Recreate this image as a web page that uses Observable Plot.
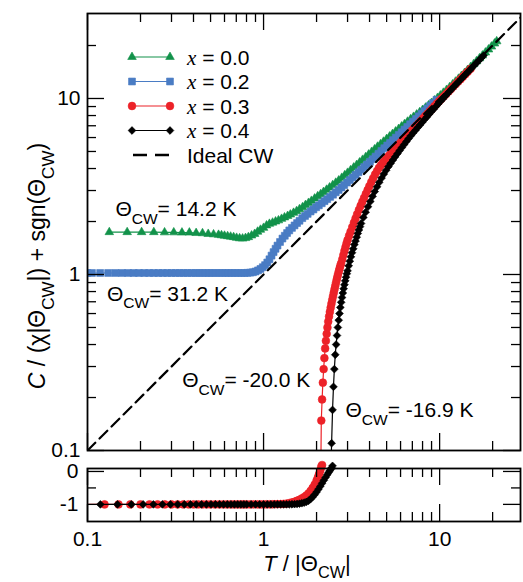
<!DOCTYPE html>
<html>
<head>
<meta charset="utf-8">
<script src="https://cdn.jsdelivr.net/npm/d3@7"></script>
<script src="https://cdn.jsdelivr.net/npm/@observablehq/plot@0.6"></script>
<style>
  body { margin: 0; background: #fff; }
  #chart { position: relative; width: 523px; height: 582px; background: #fff; }
  #chart svg { position: absolute; left: 0; overflow: visible; }
</style>
</head>
<body>
<div id="chart"></div>
<script>
// Reduced susceptibility C/(χ|Θ_CW|) + sgn(Θ_CW) against reduced temperature T/|Θ_CW|.
// Each series is a list of [T/|Θ_CW|, value] pairs.

const seriesLabels = ["~x~ = 0.0", "~x~ = 0.2", "~x~ = 0.3", "~x~ = 0.4"];
const thetaCW = [14.2, 31.2, -20.0, -16.9];

// x = 0.0
const x00 = [[0.133,1.74],[0.168,1.74],[0.203,1.74],[0.238,1.74],[0.274,1.735],[0.309,1.735],[0.344,1.73],[0.379,1.73],[0.414,1.72],[0.45,1.715],[0.485,1.70],[0.52,1.69],[0.555,1.68],[0.577,1.67],[0.6,1.66],[0.625,1.65],[0.65,1.64],[0.676,1.63],[0.703,1.615],[0.731,1.605],[0.76,1.6],[0.79,1.61],[0.82,1.63],[0.855,1.665],[0.89,1.7],[0.925,1.75],[0.96,1.795],[1.0,1.84],[1.04,1.9],[1.08,1.94],[1.125,1.97],[1.17,2.0],[1.215,2.03],[1.265,2.07],[1.315,2.11],[1.37,2.15],[1.42,2.19],[1.48,2.24],[1.54,2.29],[1.6,2.35],[1.665,2.41],[1.73,2.48],[1.8,2.55],[1.87,2.62],[1.95,2.7],[2.03,2.78],[2.11,2.86],[2.19,2.94],[2.28,3.03],[2.37,3.12],[2.47,3.22],[2.57,3.32],[2.67,3.42],[2.78,3.54],[2.89,3.66],[3.0,3.78],[3.12,3.91],[3.25,4.05],[3.38,4.19],[3.51,4.33],[3.65,4.48],[3.8,4.64],[3.95,4.8],[4.11,4.97],[4.27,5.14],[4.44,5.32],[4.62,5.5],[4.8,5.68],[5.0,5.88],[5.2,6.08],[5.4,6.28],[5.62,6.49],[5.85,6.71],[6.08,6.93],[6.32,7.15],[6.57,7.38],[6.84,7.62],[7.11,7.86],[7.4,8.1],[7.7,8.35],[8.0,8.6],[8.32,8.87],[8.65,9.14],[9.0,9.43],[9.36,9.74],[9.73,10.07],[10.1,10.4],[10.5,10.77],[10.95,11.18],[11.4,11.6],[11.85,12.03],[12.3,12.46],[12.8,12.94],[13.3,13.43],[13.85,13.96],[14.4,14.5],[15.0,15.09],[15.6,15.68],[16.2,16.27],[16.85,16.91],[17.5,17.55],[18.2,18.24],[18.95,18.98],[19.7,19.72],[20.5,20.52],[21.1,21.12]];

// x = 0.2
const x02 = [[0.0997,1.02],[0.106,1.02],[0.118,1.02],[0.131,1.02],[0.144,1.02],[0.157,1.02],[0.17,1.02],[0.183,1.02],[0.196,1.02],[0.21,1.02],[0.224,1.02],[0.238,1.02],[0.253,1.02],[0.268,1.02],[0.284,1.02],[0.3,1.02],[0.317,1.02],[0.334,1.02],[0.352,1.02],[0.37,1.02],[0.39,1.02],[0.41,1.02],[0.43,1.02],[0.45,1.02],[0.47,1.02],[0.49,1.02],[0.51,1.02],[0.535,1.02],[0.56,1.02],[0.585,1.02],[0.61,1.02],[0.635,1.02],[0.66,1.02],[0.69,1.02],[0.72,1.02],[0.75,1.02],[0.78,1.02],[0.81,1.022],[0.84,1.025],[0.87,1.03],[0.9,1.04],[0.93,1.055],[0.96,1.075],[0.99,1.1],[1.02,1.13],[1.05,1.17],[1.08,1.22],[1.11,1.28],[1.14,1.34],[1.17,1.4],[1.2,1.46],[1.24,1.53],[1.28,1.6],[1.32,1.66],[1.36,1.72],[1.4,1.78],[1.45,1.84],[1.5,1.9],[1.55,1.96],[1.6,2.02],[1.66,2.09],[1.72,2.15],[1.78,2.21],[1.85,2.28],[1.92,2.34],[1.99,2.41],[2.06,2.47],[2.14,2.54],[2.22,2.61],[2.3,2.68],[2.39,2.76],[2.48,2.84],[2.57,2.93],[2.67,3.02],[2.77,3.12],[2.87,3.22],[2.98,3.33],[3.09,3.44],[3.21,3.56],[3.33,3.68],[3.46,3.81],[3.59,3.94],[3.73,4.08],[3.87,4.22],[4.02,4.37],[4.17,4.52],[4.33,4.68],[4.5,4.86],[4.67,5.04],[4.85,5.22],[5.04,5.41],[5.23,5.6],[5.43,5.8],[5.64,6.0],[5.86,6.21],[6.08,6.43],[6.31,6.66],[6.55,6.89],[6.8,7.14],[7.06,7.39],[7.33,7.65],[7.61,7.92],[7.9,8.2],[8.2,8.49],[8.51,8.79],[8.84,9.1],[9.18,9.43],[9.6,9.83]];

// x = 0.3 (negative values below the sign change)
const x03 = [[0.0995,-1],[0.125,-1],[0.15,-1],[0.175,-1],[0.2,-1],[0.225,-1],[0.25,-1],[0.275,-1],[0.3,-1],[0.325,-1],[0.35,-1],[0.375,-1],[0.4,-1],[0.425,-1],[0.45,-1],[0.475,-1],[0.5,-1],[0.53,-1],[0.56,-1],[0.59,-1],[0.62,-1],[0.65,-1],[0.68,-1],[0.71,-1],[0.74,-1],[0.77,-1],[0.8,-1],[0.84,-1],[0.88,-1],[0.92,-1],[0.96,-1],[1.0,-1],[1.04,-0.999],[1.08,-0.998],[1.12,-0.997],[1.16,-0.995],[1.2,-0.993],[1.25,-0.99],[1.3,-0.985],[1.35,-0.975],[1.4,-0.96],[1.45,-0.94],[1.5,-0.92],[1.55,-0.89],[1.6,-0.86],[1.65,-0.82],[1.7,-0.78],[1.75,-0.73],[1.8,-0.67],[1.85,-0.59],[1.9,-0.5],[1.95,-0.4],[2.0,-0.28],[2.03,-0.2],[2.055,-0.12],[2.08,-0.04],[2.105,0.05],[2.128,0.148],[2.15,0.195],[2.172,0.243],[2.194,0.29],[2.216,0.335],[2.238,0.38],[2.26,0.42],[2.283,0.46],[2.306,0.5],[2.33,0.54],[2.355,0.578],[2.38,0.613],[2.405,0.648],[2.43,0.683],[2.455,0.718],[2.48,0.753],[2.505,0.788],[2.53,0.825],[2.555,0.862],[2.58,0.9],[2.605,0.938],[2.63,0.975],[2.655,1.012],[2.68,1.048],[2.705,1.085],[2.73,1.12],[2.755,1.155],[2.8,1.22],[2.84,1.29],[2.88,1.36],[2.92,1.43],[2.96,1.5],[3.0,1.57],[3.06,1.66],[3.12,1.75],[3.19,1.86],[3.26,1.97],[3.33,2.08],[3.4,2.2],[3.48,2.33],[3.56,2.46],[3.64,2.59],[3.72,2.72],[3.81,2.87],[3.9,3.02],[3.99,3.18],[4.09,3.35],[4.19,3.52],[4.3,3.7],[4.41,3.87],[4.52,4.03],[4.64,4.18],[4.76,4.32],[4.89,4.45],[5.02,4.59],[5.15,4.73],[5.29,4.87],[5.43,5.02],[5.58,5.17],[5.73,5.33],[5.89,5.5],[6.05,5.67],[6.22,5.84],[6.4,6.02],[6.58,6.2],[6.77,6.39],[6.97,6.59],[7.17,6.8],[7.38,7.01],[7.6,7.23],[7.82,7.46],[8.05,7.7],[8.29,7.95],[8.54,8.2],[8.8,8.47],[9.07,8.75],[9.35,9.04],[9.64,9.34],[9.94,9.65],[10.25,9.97],[10.57,10.29],[10.9,10.62],[11.25,10.97],[11.6,11.33],[11.97,11.7],[12.35,12.08],[12.75,12.48],[13.15,12.88],[13.57,13.31],[14.0,13.74],[14.45,14.19],[15.0,14.75]];

// x = 0.4 (negative values below the sign change)
const x04 = [[0.1183,-1],[0.1479,-1],[0.1775,-1],[0.2071,-1],[0.2367,-1],[0.2663,-1],[0.2959,-1],[0.3254,-1],[0.355,-1],[0.3846,-1],[0.4142,-1],[0.4438,-1],[0.4734,-1],[0.503,-1],[0.533,-1],[0.563,-1],[0.593,-1],[0.623,-1],[0.653,-1],[0.683,-1],[0.713,-1],[0.743,-1],[0.773,-1],[0.803,-1],[0.85,-1],[0.9,-1],[0.95,-1],[1.0,-1],[1.05,-1],[1.1,-1],[1.15,-1],[1.2,-1],[1.25,-1],[1.3,-1],[1.35,-1],[1.4,-0.998],[1.45,-0.996],[1.5,-0.993],[1.55,-0.988],[1.6,-0.978],[1.65,-0.965],[1.7,-0.948],[1.75,-0.925],[1.8,-0.89],[1.85,-0.84],[1.9,-0.775],[1.95,-0.705],[2.0,-0.625],[2.05,-0.54],[2.1,-0.45],[2.15,-0.36],[2.2,-0.27],[2.25,-0.18],[2.3,-0.1],[2.34,-0.035],[2.376,0.02],[2.406,0.07],[2.435,0.11],[2.465,0.17],[2.495,0.23],[2.524,0.29],[2.554,0.35],[2.583,0.4],[2.613,0.45],[2.643,0.5],[2.672,0.55],[2.7,0.6],[2.73,0.65],[2.76,0.695],[2.79,0.74],[2.82,0.785],[2.85,0.83],[2.88,0.875],[2.91,0.92],[2.94,0.965],[2.97,1.01],[3.0,1.05],[3.045,1.12],[3.09,1.19],[3.135,1.26],[3.18,1.33],[3.23,1.4],[3.28,1.48],[3.33,1.55],[3.38,1.63],[3.43,1.71],[3.48,1.79],[3.53,1.87],[3.58,1.95],[3.69,2.11],[3.8,2.26],[3.92,2.43],[4.04,2.6],[4.16,2.78],[4.28,2.96],[4.41,3.15],[4.54,3.34],[4.68,3.53],[4.82,3.72],[4.97,3.91],[5.12,4.1],[5.27,4.28],[5.43,4.47],[5.59,4.66],[5.76,4.86],[5.93,5.06],[6.11,5.27],[6.29,5.48],[6.48,5.7],[6.67,5.92],[6.87,6.15],[7.08,6.38],[7.29,6.6],[7.51,6.84],[7.74,7.08],[7.97,7.33],[8.21,7.59],[8.46,7.86],[8.71,8.13],[8.97,8.41],[9.24,8.7],[9.52,9.0],[9.8,9.3],[10.1,9.62],[10.4,9.94],[10.7,10.26],[11.0,10.58],[11.35,10.95],[11.7,11.31],[12.05,11.67],[12.4,12.03],[12.8,12.44],[13.2,12.85],[13.6,13.26],[14.0,13.67],[14.4,14.08],[14.85,14.54],[15.3,15.0],[15.75,15.46],[16.2,15.92],[16.7,16.43],[17.2,16.95],[17.75,17.53]];

// Ideal Curie–Weiss behaviour: value = T/|Θ_CW|
const idealCW = [0.1, 30];

// Tick values
const logMajor = [0.1, 1, 10];
const logMinor = [0.2, 0.3, 0.4, 0.5, 0.6, 0.7, 0.8, 0.9, 2, 3, 4, 5, 6, 7, 8, 9, 20];
const linMajor = [0, -1];
const linMinor = [-0.5];

// Theta annotations, anchored in data units
const annotations = [
  {text: "Θ_{CW}= 14.2 K", x: 0.144, y: 2.36},
  {text: "Θ_{CW}= 31.2 K", x: 0.129, y: 0.777},
  {text: "Θ_{CW}= -20.0 K", x: 0.345, y: 0.25},
  {text: "Θ_{CW}= -16.9 K", x: 2.92, y: 0.169}
];

// ---------------------------------------------------------------- styling
const FONT = '"Liberation Sans", Arial, Helvetica, sans-serif';
const SERIF = '"Liberation Serif", "Times New Roman", serif';
const FS = 21;
const colors = ["#12924a", "#4a7cc4", "#ec2228", "#000000"];
const symbols = ["triangle", "square", "circle", "diamond2"];
const radii = [3.2, 3.9, 3.9, 3.5];
const d3Symbols = {triangle: d3.symbolTriangle, square: d3.symbolSquare, circle: d3.symbolCircle, diamond2: d3.symbolDiamond2};

const W = 523;
const xDomain = [0.1, 28.8];
const main = {height: 458, top: 13, right: 3, bottom: 8, left: 87};
const low = {height: 124, top: 10, right: 3, bottom: 61, left: 87};
const frameW = W - main.left - main.right;
const mainFrameH = main.height - main.top - main.bottom;
const lowFrameH = low.height - low.top - low.bottom;
const MAJOR = 17, MINOR = 9;

const X = d => d[0], Y = d => d[1];

function xTicks(values, len, frameH) {
  const o = {x: d => d, stroke: "black", strokeWidth: 1.3};
  return [
    Plot.tickX(values, {...o, insetTop: frameH - len}),
    Plot.tickX(values, {...o, insetBottom: frameH - len})
  ];
}
function yTicks(values, len) {
  const o = {y: d => d, stroke: "black", strokeWidth: 1.3};
  return [
    Plot.tickY(values, {...o, insetRight: frameW - len}),
    Plot.tickY(values, {...o, insetLeft: frameW - len})
  ];
}

// Rich text: _{...} subscript, *...* italic, ~...~ italic serif
function rich(sel, str, fs, shiftRatio = 0.38) {
  sel.text(null);
  const parts = str.split(/(_\{[^}]*\}|\*[^*]*\*|~[^~]*~)/g).filter(s => s !== "");
  const shift = fs * shiftRatio;
  let lowered = false;
  for (const p of parts) {
    const ts = sel.append("tspan");
    if (p.startsWith("_{")) {
      ts.text(p.slice(2, -1)).attr("font-size", fs * 0.74).attr("dy", shift);
      lowered = true;
      continue;
    }
    if (lowered) { ts.attr("dy", -shift); lowered = false; }
    if (p.startsWith("*")) ts.text(p.slice(1, -1)).attr("font-style", "italic");
    else if (p.startsWith("~")) ts.text(p.slice(1, -1)).attr("font-style", "italic").attr("font-family", SERIF);
    else ts.text(p);
  }
}

const seriesData = [x00, x02, x03, x04];

// ---------------------------------------------------------------- main log-log panel
const mainMarks = [];
seriesData.forEach((data, i) => {
  const pos = data.filter(d => d[1] > 0);
  mainMarks.push(
    Plot.line(pos, {x: X, y: Y, stroke: colors[i], strokeWidth: 1.2, clip: true}),
    Plot.dot(pos, {x: X, y: Y, symbol: () => symbols[i], r: radii[i], fill: colors[i], stroke: colors[i], strokeWidth: 0.6, clip: true})
  );
});
mainMarks.push(
  Plot.line(idealCW, {x: d => d, y: d => d, stroke: "black", strokeWidth: 2.2, strokeDasharray: "11,6", clip: true}),
  ...xTicks(logMajor, MAJOR, mainFrameH),
  ...xTicks(logMinor, MINOR, mainFrameH),
  ...yTicks(logMajor, MAJOR),
  ...yTicks(logMinor, MINOR),
  Plot.frame({stroke: "black", strokeWidth: 1.8}),
  Plot.axisY(logMajor, {tickSize: 0, tickPadding: 7, fontSize: FS, tickFormat: d => String(d), label: null}),
  Plot.text(annotations, {x: "x", y: "y", text: "text", textAnchor: "start", lineAnchor: "middle", fontSize: FS, fill: "black"})
);

const mainSvg = Plot.plot({
  width: W, height: main.height,
  marginTop: main.top, marginRight: main.right, marginBottom: main.bottom, marginLeft: main.left,
  style: {fontFamily: FONT, fontSize: FS + "px", background: "white", color: "black", overflow: "visible"},
  x: {type: "log", domain: xDomain, axis: null},
  y: {type: "log", domain: [0.1, 30.4], axis: null},
  symbol: {type: "identity"},
  marks: mainMarks
});

// ---------------------------------------------------------------- linear sign-change panel
const lowMarks = [];
[2, 3].forEach(i => {
  const data = seriesData[i].filter(d => d[1] < 0.2);
  lowMarks.push(
    Plot.line(data, {x: X, y: Y, stroke: colors[i], strokeWidth: 1.2, clip: true}),
    Plot.dot(data, {x: X, y: Y, filter: d => d[0] >= 0.1, symbol: () => symbols[i], r: radii[i], fill: colors[i], stroke: colors[i], strokeWidth: 0.6})
  );
});
lowMarks.push(
  ...xTicks(logMajor, MAJOR, lowFrameH),
  ...xTicks(logMinor, MINOR, lowFrameH),
  ...yTicks(linMajor, MAJOR),
  ...yTicks(linMinor, MINOR),
  Plot.frame({stroke: "black", strokeWidth: 1.8}),
  Plot.axisY(linMajor, {tickSize: 0, tickPadding: 9, fontSize: FS, tickFormat: d => String(d), label: null}),
  Plot.axisX(logMajor, {tickSize: 0, tickPadding: 10, fontSize: FS, tickFormat: d => String(d), label: null})
);

const lowSvg = Plot.plot({
  width: W, height: low.height,
  marginTop: low.top, marginRight: low.right, marginBottom: low.bottom, marginLeft: low.left,
  style: {fontFamily: FONT, fontSize: FS + "px", background: "transparent", color: "black", overflow: "visible"},
  x: {type: "log", domain: xDomain, axis: null},
  y: {type: "linear", domain: [-1.52, 0.09], axis: null},
  symbol: {type: "identity"},
  marks: lowMarks
});

const chart = document.getElementById("chart");
mainSvg.style.top = "0px";
lowSvg.style.top = main.height + "px";
chart.appendChild(mainSvg);
chart.appendChild(lowSvg);

// subscripts in the annotations
d3.select(mainSvg).selectAll("text").each(function () {
  const t = this.textContent;
  if (t.includes("_{")) rich(d3.select(this), t, FS);
});

// legend inside the main panel
const legend = d3.select(mainSvg).append("g")
  .attr("font-family", FONT).attr("font-size", FS).attr("text-anchor", "start");
const rowY = [57, 81.5, 106, 130.5, 155];
seriesLabels.forEach((label, i) => {
  const g = legend.append("g").attr("transform", `translate(0,${rowY[i]})`);
  g.append("line").attr("x1", 132).attr("x2", 170).attr("stroke", colors[i]).attr("stroke-width", 1.2);
  const path = d3.symbol().type(d3Symbols[symbols[i]]).size(Math.PI * radii[i] * radii[i])();
  [132, 170].forEach(cx => g.append("path").attr("d", path).attr("transform", `translate(${cx},0)`)
    .attr("fill", colors[i]).attr("stroke", colors[i]).attr("stroke-width", 0.6));
  const t = g.append("text").attr("x", 187).attr("dy", "0.36em").attr("text-anchor", "start");
  rich(t, label, FS);
});
{
  const g = legend.append("g").attr("transform", `translate(0,${rowY[4]})`);
  g.append("line").attr("x1", 133).attr("x2", 169).attr("stroke", "black").attr("stroke-width", 2.6).attr("stroke-dasharray", "14,8");
  g.append("text").attr("x", 187).attr("dy", "0.36em").attr("text-anchor", "start").text("Ideal CW");
}

// axis titles
const yTitle = d3.select(mainSvg).append("text")
  .attr("font-family", FONT).attr("font-size", 23).attr("text-anchor", "middle")
  .attr("transform", "translate(45,266) rotate(-90)");
rich(yTitle, "*C* / (χ|Θ_{CW}|) + sgn(Θ_{CW})", 23);

const xTitle = d3.select(lowSvg).append("text")
  .attr("font-family", FONT).attr("font-size", 22).attr("text-anchor", "middle")
  .attr("transform", "translate(307,113)");
rich(xTitle, "*T* / |Θ_{CW}|", 22, 0.3);
</script>
</body>
</html>
